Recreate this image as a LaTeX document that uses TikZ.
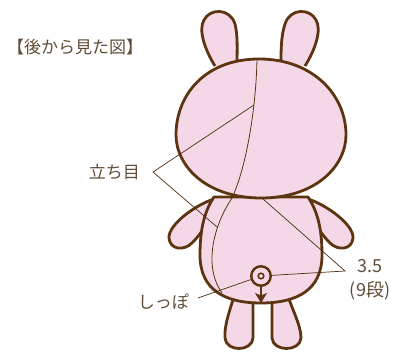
\documentclass[tikz,border=0pt]{standalone}
\usepackage{fontspec}
\setmainfont{Noto Sans CJK JP}
\usetikzlibrary{positioning,arrows.meta}
\definecolor{bunnyPink}{RGB}{245,216,232}
\definecolor{bunnyBrown}{RGB}{92,52,16}
\definecolor{labelBrown}{RGB}{96,76,56}
\newcommand{\outlineWidth}{2.8pt}
\newcommand{\labelSize}{\fontsize{17}{19}\selectfont}
\newcommand{\numberSize}{\fontsize{18}{20}\selectfont}
\tikzset{
  bunnyPart/.style={draw=bunnyBrown,fill=bunnyPink,line width=\outlineWidth,line join=round},
  stitchLine/.style={draw=bunnyBrown,line width=0.8pt},
  leaderLine/.style={draw=bunnyBrown!85!black,line width=0.7pt},
  labelText/.style={text=labelBrown,font=\labelSize,inner sep=0pt}
}
\begin{document}
\begin{tikzpicture}[x=1pt,y=-1pt]
\useasboundingbox (0,0) rectangle (393,352);
% ears
\draw[bunnyPart] (215,66) .. controls (205,50) and (198,30) .. (204,20) .. controls (210,8) and (230,8) .. (235,24) .. controls (238,36) and (237,50) .. (237,64);
\draw[bunnyPart] (305,66) .. controls (315,50) and (322,30) .. (316,20) .. controls (310,8) and (290,8) .. (285,24) .. controls (281,36) and (281,50) .. (281,64);
% legs
\draw[bunnyPart] (236,290) .. controls (230,310) and (224,325) .. (225,338) .. controls (226,352) and (252,352) .. (253,338) -- (253,290) -- cycle;
\draw[bunnyPart] (286,290) .. controls (292,310) and (301,325) .. (301,338) .. controls (300,352) and (273,352) .. (272,338) -- (272,290) -- cycle;
% arms
\draw[bunnyPart] (214,199) .. controls (195,205) and (168,225) .. (169,238) .. controls (170,250) and (184,251) .. (192,243) .. controls (198,237) and (203,230) .. (208,222) -- cycle;
\draw[bunnyPart] (308,199) .. controls (327,205) and (354,225) .. (353,238) .. controls (352,250) and (338,251) .. (330,243) .. controls (324,237) and (319,230) .. (314,222) -- cycle;
% body
\draw[bunnyPart] (214,197) .. controls (204,212) and (200,230) .. (200,255) .. controls (200,290) and (225,303) .. (261,303) .. controls (297,303) and (322,290) .. (322,255) .. controls (322,230) and (318,212) .. (308,197) -- cycle;
\draw[stitchLine] (232,198) .. controls (212,228) and (204,268) .. (222,293);
% head
\draw[bunnyPart] (176,135) .. controls (176,95) and (205,59) .. (259,59) .. controls (313,59) and (346,95) .. (346,135) .. controls (346,165) and (317,198) .. (261,198) .. controls (205,198) and (176,165) .. (176,135) -- cycle;
\draw[stitchLine] (257,59) .. controls (256,110) and (246,168) .. (232,198);
% tail
\node[circle,draw=bunnyBrown,fill=bunnyPink,line width=2.4pt,minimum size=19.5pt,inner sep=0pt] (tailRing) at (261,276) {};
\node[circle,draw=bunnyBrown,fill=bunnyPink!40!white,line width=1.6pt,minimum size=5.5pt,inner sep=0pt] (tailDot) at (261,276) {};
\coordinate (tailTip) at (261,303);
\draw[bunnyBrown,line width=1.5pt,-{Stealth[length=10pt,width=12pt,inset=2.5pt]}] (tailRing.south) -- (tailTip);

% labels and leaders
\node[labelText,anchor=west] (titleLabel) at (7,47) {【後から見た図】};

\coordinate (stitchApex) at (153,172);
\coordinate (headStitchPoint) at (254,105);
\coordinate (bodyStitchPoint) at (217,227);
\node[labelText,left=13pt of stitchApex] (stitchLabel) {立ち目};
\draw[leaderLine] (headStitchPoint) -- (stitchApex) -- (bodyStitchPoint);

\coordinate (rowsApex) at (345,271);
\coordinate (seamPoint) at (263,199);
\node[labelText,font=\numberSize] (rowsLabel) at (370,266) {3.5};
\node[labelText,font=\numberSize,below=8pt of rowsLabel] (rowsNote) {(9段)};
\draw[leaderLine] (seamPoint) -- (rowsApex) -- (tailRing);

\coordinate (tailApex) at (198,298);
\node[labelText,anchor=east] (tailLabel) at (189,302) {しっぽ};
\draw[leaderLine] (tailApex) -- (tailRing);
\end{tikzpicture}
\end{document}
